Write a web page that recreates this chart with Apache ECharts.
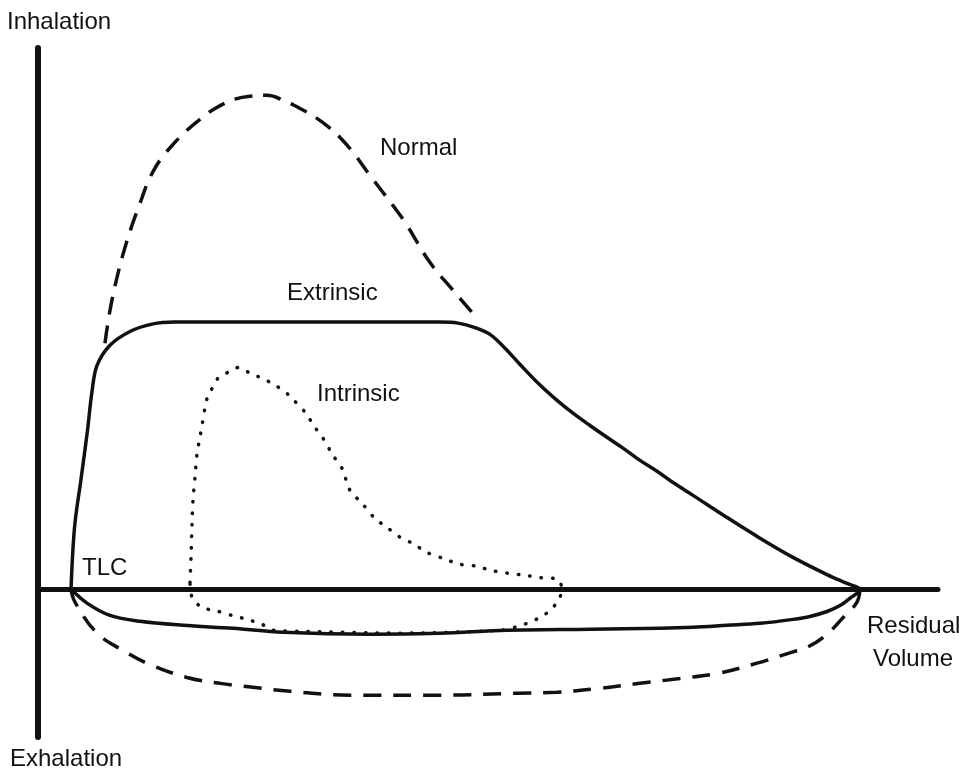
<!DOCTYPE html>
<html lang="en">
<head>
    <meta charset="UTF-8">
    <title>Flow-volume loops</title>
    <style>
        html, body { margin: 0; padding: 0; background: #fff; }
    </style>
</head>
<body>
<script src="https://cdn.jsdelivr.net/npm/echarts@6/dist/echarts.min.js"></script>
<div id="main" style="width: 970px;height:770px;"></div>

<script>
    // volume (x, 0..100) vs flow (y, -3..11)
    var normalUpper = [
        [7.44, 5.00], [8.00, 5.67], [8.78, 6.34], [9.67, 6.95], [10.56, 7.46],
        [11.33, 7.84], [12.11, 8.23], [13.0, 8.56], [13.89, 8.80], [15.0, 9.04],
        [16.33, 9.29], [18.0, 9.55], [19.67, 9.77], [21.89, 9.96], [23.56, 10.02],
        [25.44, 10.04], [27.44, 9.92], [29.33, 9.75], [31.0, 9.57], [32.44, 9.37],
        [33.56, 9.18], [35.0, 8.88], [36.89, 8.41], [39.44, 7.80], [40.78, 7.46],
        [43.56, 6.64], [46.11, 6.08], [48.78, 5.51]
    ];
    var normalLower = [
        [3.67, 0], [4.11, -0.26], [6.56, -0.89], [9.44, -1.24], [12.11, -1.50],
        [16.56, -1.79], [20.22, -1.91], [23.89, -1.99], [28.0, -2.07], [34.67, -2.15],
        [44.67, -2.15], [53.22, -2.11], [57.67, -2.09], [62.44, -2.01], [66.89, -1.91],
        [71.33, -1.81], [75.44, -1.71], [79.89, -1.50], [83.89, -1.27], [85.44, -1.18],
        [87.56, -0.93], [89.67, -0.53], [91.0, -0.26], [91.33, 0]
    ];
    var extrinsicLoop = [
        [3.67, 0], [4.06, 1.26], [4.78, 2.24], [5.5, 3.23], [6.0, 4.02],
        [6.56, 4.55], [8.0, 4.96], [10.22, 5.24], [12.67, 5.39], [15.22, 5.43],
        [23.56, 5.43], [34.67, 5.43], [44.67, 5.43], [46.67, 5.41], [48.56, 5.32],
        [50.22, 5.18], [51.89, 4.90], [53.56, 4.57], [55.78, 4.15], [57.67, 3.84],
        [59.44, 3.58], [61.33, 3.33], [63.22, 3.09], [65.0, 2.87], [66.89, 2.62],
        [68.78, 2.40], [70.56, 2.17], [72.78, 1.91], [76.56, 1.46], [80.22, 1.04],
        [83.89, 0.65], [87.67, 0.30], [89.89, 0.12], [91.33, 0],
        [91.0, -0.08], [90.22, -0.18], [89.11, -0.33], [87.67, -0.45], [85.78, -0.55],
        [83.89, -0.61], [80.22, -0.69], [76.56, -0.73], [72.78, -0.77], [69.11, -0.79],
        [61.33, -0.81], [52.11, -0.83], [44.67, -0.89], [36.89, -0.91], [27.22, -0.87],
        [21.67, -0.79], [16.11, -0.73], [11.33, -0.65], [8.0, -0.53], [5.44, -0.28],
        [3.67, 0]
    ];
    var intrinsicLoop = [
        [16.89, 0.14], [17.0, 0.65], [17.11, 1.34], [17.22, 1.81], [17.44, 2.28],
        [17.67, 2.76], [18.0, 3.09], [18.22, 3.33], [18.78, 3.88], [19.33, 4.08],
        [20.0, 4.29], [21.11, 4.41], [22.33, 4.51], [23.56, 4.39], [24.89, 4.29],
        [26.33, 4.15], [27.67, 3.98], [28.44, 3.84], [29.67, 3.60], [30.78, 3.29],
        [31.67, 3.07], [32.78, 2.72], [33.78, 2.46], [34.67, 2.01], [36.0, 1.75],
        [37.44, 1.44], [38.78, 1.26], [40.22, 1.06], [41.67, 0.93], [43.22, 0.75],
        [45.0, 0.63], [46.89, 0.51], [48.78, 0.47], [50.22, 0.39], [52.11, 0.33],
        [54.33, 0.28], [55.78, 0.24], [57.78, 0.20], [58.22, -0.02], [57.67, -0.26],
        [56.89, -0.43], [55.78, -0.57], [54.33, -0.69], [53.0, -0.77], [51.56, -0.83],
        [40.22, -0.89], [29.11, -0.85], [26.11, -0.83], [24.89, -0.71], [23.22, -0.61],
        [21.56, -0.53], [19.67, -0.43], [18.22, -0.37], [17.11, -0.16], [16.89, 0.14]
    ];

    var font = '24px "Liberation Sans", Arial, sans-serif';
    var ink = '#111';

    function label(text, left, top) {
        return {
            type: 'text', left: left, top: top, z: 10,
            style: { text: text, font: font, fill: ink }
        };
    }

    var myChart = echarts.init(document.getElementById('main'));

    var option = {
        animation: false,
        backgroundColor: '#fff',
        grid: { left: 38, top: 48, width: 900, height: 689 },
        xAxis: {
            type: 'value', min: 0, max: 100,
            axisLine: { onZero: true, lineStyle: { color: ink, width: 5, cap: 'round' } },
            axisTick: { show: false }, axisLabel: { show: false }, splitLine: { show: false }
        },
        yAxis: {
            type: 'value', min: -3, max: 11,
            axisLine: { show: true, onZero: false, lineStyle: { color: ink, width: 6, cap: 'round' } },
            axisTick: { show: false }, axisLabel: { show: false }, splitLine: { show: false }
        },
        series: [
            {
                name: 'Intrinsic', type: 'line', data: intrinsicLoop,
                showSymbol: false, smooth: 0.3,
                lineStyle: { color: ink, width: 3.5, type: [0.5, 11], cap: 'round' }
            },
            {
                name: 'Normal', type: 'line', data: normalUpper,
                showSymbol: false, smooth: 0.4,
                lineStyle: { color: ink, width: 3.5, type: [18, 11], cap: 'butt' }
            },
            {
                name: 'Normal', type: 'line', data: normalLower,
                showSymbol: false, smooth: 0.4,
                lineStyle: { color: ink, width: 3.5, type: [18, 12], cap: 'butt' }
            },
            {
                name: 'Extrinsic', type: 'line', data: extrinsicLoop,
                showSymbol: false, smooth: 0.35,
                lineStyle: { color: ink, width: 3.5, cap: 'round', join: 'round' }
            }
        ],
        graphic: [
            label('Inhalation', 7, 10),
            label('Exhalation', 10, 747),
            label('Normal', 380, 136),
            label('Extrinsic', 287, 281),
            label('Intrinsic', 317, 382),
            label('TLC', 82, 556),
            label('Residual', 867, 614),
            label('Volume', 873, 647)
        ]
    };

    myChart.setOption(option);
</script>
</body>
</html>
